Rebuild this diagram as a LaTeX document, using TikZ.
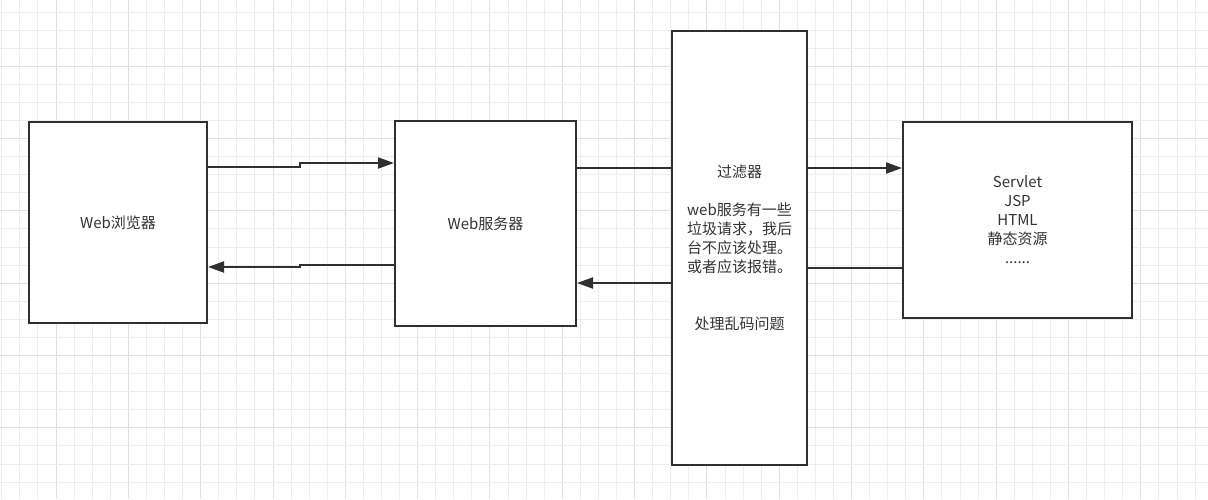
\documentclass[tikz,border=0pt]{standalone}
\usepackage{fontspec}
\setmainfont{Noto Sans CJK SC}
\usetikzlibrary{arrows.meta}
\definecolor{ink}{HTML}{303030}
\definecolor{txt}{HTML}{333333}
\definecolor{gridminor}{HTML}{EDEDED}
\definecolor{gridmajor}{HTML}{E0E0E0}
\tikzset{
  box/.style={draw=ink, line width=2pt, fill=white, inner sep=0pt, align=center,
    text=txt, font=\fontsize{15}{19}\selectfont},
  conn/.style={draw=ink, line width=2pt},
  arr/.style={conn, -{Triangle[length=16pt,width=11pt]}},
  gmin/.style={draw=gridminor, line width=1pt},
  gmaj/.style={draw=gridmajor, line width=1pt},
}
\begin{document}
\begin{tikzpicture}[x=1pt,y=-1pt]
\useasboundingbox (0,0) rectangle (1208,499);
\fill[white] (0,0) rectangle (1208,499);
% grid
\foreach \i in {0,...,66}{
  \pgfmathsetmacro\gx{1.8+18.08*\i}
  \pgfmathtruncatemacro\gm{mod(\i,4)}
  \ifnum\gm=3 \draw[gmaj] (\gx,0) -- (\gx,499); \else \draw[gmin] (\gx,0) -- (\gx,499); \fi
}
\foreach \i in {0,...,27}{
  \pgfmathsetmacro\gy{12+18.08*\i}
  \pgfmathtruncatemacro\gm{mod(\i,4)}
  \ifnum\gm=3 \draw[gmaj] (0,\gy) -- (1208,\gy); \else \draw[gmin] (0,\gy) -- (1208,\gy); \fi
}
% boxes
\node[box, minimum width=178pt, minimum height=201pt] (browser) at (118,222.5) {Web浏览器};
\node[box, minimum width=181pt, minimum height=205pt] (server) at (485.5,223.5) {Web服务器};
\node[box, minimum width=135pt, minimum height=434pt] (filter) at (739.5,247.5)
  {过滤器\\[19pt]web服务有一些\\垃圾请求，我后\\台不应该处理。\\或者应该报错。\\[38pt]处理乱码问题};
\node[box, minimum width=229pt, minimum height=196pt] (servlet) at (1017.5,219.5)
  {Servlet\\JSP\\HTML\\静态资源\\......};
% helper coordinates
\coordinate (ya) at (0,167);
\coordinate (yb) at (0,163);
\coordinate (yc) at (0,265);
\coordinate (yd) at (0,267);
\coordinate (ye) at (0,168);
\coordinate (yf) at (0,268);
\coordinate (yg) at (0,283);
\coordinate (k1) at (300,167);
\coordinate (k2) at (300,163);
\coordinate (k3) at (300,265);
\coordinate (k4) at (300,267);
% connectors
\draw[arr] (browser.east |- ya) -- (k1) -- (k2) -- (server.west |- yb);
\draw[arr] (server.west |- yc) -- (k3) -- (k4) -- (browser.east |- yd);
\draw[conn] (server.east |- ye) -- (filter.west |- ye);
\draw[arr] (filter.east |- ye) -- (servlet.west |- ye);
\draw[conn] (servlet.west |- yf) -- (filter.east |- yf);
\draw[arr] (filter.west |- yg) -- (server.east |- yg);
\end{tikzpicture}
\end{document}
